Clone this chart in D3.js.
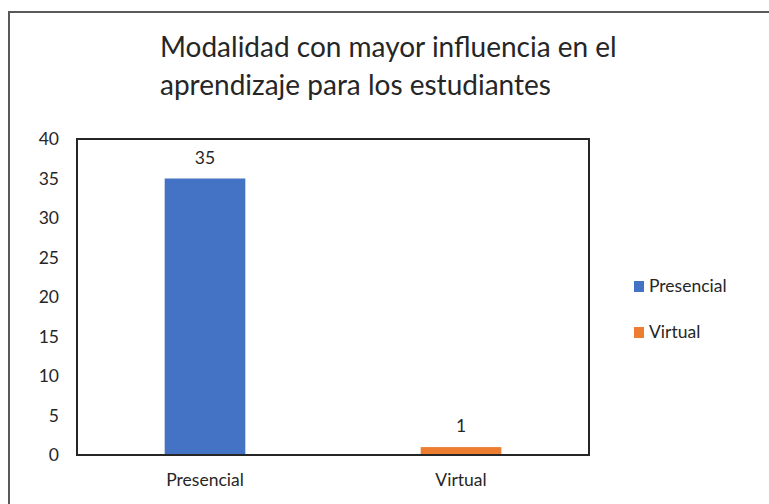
<!DOCTYPE html>
<html>
<head>
<meta charset="utf-8">
<script src="https://cdn.jsdelivr.net/npm/d3@7"></script>
<style>
  body { margin: 0; background: #fff; }
  svg text { font-family: Lato, "Open Sans", sans-serif; fill: #262626; }
</style>
</head>
<body>
<div id="chart"></div>
<script>
// chart data
var categories = ["Presencial", "Virtual"];
var values = [35, 1];
var colors = ["#4472C4", "#ED7D31"];
var yTicks = [0, 5, 10, 15, 20, 25, 30, 35, 40];
var titleLines = ["Modalidad con mayor influencia en el", "aprendizaje para los estudiantes"];

var svgWidth = 769;
var svgHeight = 504;

// plot box edges
var plot = { left: 77, right: 589, top: 139, bottom: 455 };

var svg = d3.select("#chart")
  .append("svg")
  .attr("width", svgWidth)
  .attr("height", svgHeight);

// outer chart border (runs off the right and bottom of the picture)
svg.append("rect")
  .attr("x", 9)
  .attr("y", 12)
  .attr("width", 800)
  .attr("height", 600)
  .attr("fill", "none")
  .attr("stroke", "#595959")
  .attr("stroke-width", 2);

// title, left aligned lines
svg.append("g")
  .selectAll("text")
  .data(titleLines)
  .enter()
  .append("text")
  .attr("x", 160)
  .attr("y", (d, i) => 57 + i * 38)
  .attr("font-size", "28px")
  .text(d => d);

var x = d3.scaleBand()
  .domain(categories)
  .range([plot.left, plot.right])
  .paddingInner(0.685)
  .paddingOuter(0.3425);

var y = d3.scaleLinear()
  .domain([0, 40])
  .range([plot.bottom, plot.top]);

// y tick labels
svg.append("g")
  .selectAll("text")
  .data(yTicks)
  .enter()
  .append("text")
  .attr("x", 59)
  .attr("y", d => y(d))
  .attr("dy", "0.35em")
  .attr("text-anchor", "end")
  .attr("font-size", "17.5px")
  .text(d => d);

// bars
svg.append("g")
  .selectAll("rect")
  .data(values)
  .enter()
  .append("rect")
  .attr("x", (d, i) => x(categories[i]))
  .attr("y", d => y(d))
  .attr("width", x.bandwidth())
  .attr("height", d => y(0) - y(d))
  .attr("fill", (d, i) => colors[i]);

// data labels
svg.append("g")
  .selectAll("text")
  .data(values)
  .enter()
  .append("text")
  .attr("x", (d, i) => x(categories[i]) + x.bandwidth() / 2)
  .attr("y", d => y(d) - 15)
  .attr("text-anchor", "middle")
  .attr("font-size", "17.5px")
  .text(d => d);

// plot area box
svg.append("rect")
  .attr("x", plot.left)
  .attr("y", plot.top)
  .attr("width", plot.right - plot.left)
  .attr("height", plot.bottom - plot.top)
  .attr("fill", "none")
  .attr("stroke", "#262626")
  .attr("stroke-width", 2);

// category labels
svg.append("g")
  .selectAll("text")
  .data(categories)
  .enter()
  .append("text")
  .attr("x", d => x(d) + x.bandwidth() / 2)
  .attr("y", 486)
  .attr("text-anchor", "middle")
  .attr("font-size", "17.5px")
  .text(d => d);

// legend
var legend = svg.append("g")
  .selectAll("g")
  .data(categories)
  .enter()
  .append("g")
  .attr("transform", (d, i) => `translate(634, ${281 + i * 46})`);

legend.append("rect")
  .attr("width", 10)
  .attr("height", 11)
  .attr("fill", (d, i) => colors[i]);

legend.append("text")
  .attr("x", 15)
  .attr("y", 11)
  .attr("font-size", "17.5px")
  .text(d => d);
</script>
</body>
</html>
